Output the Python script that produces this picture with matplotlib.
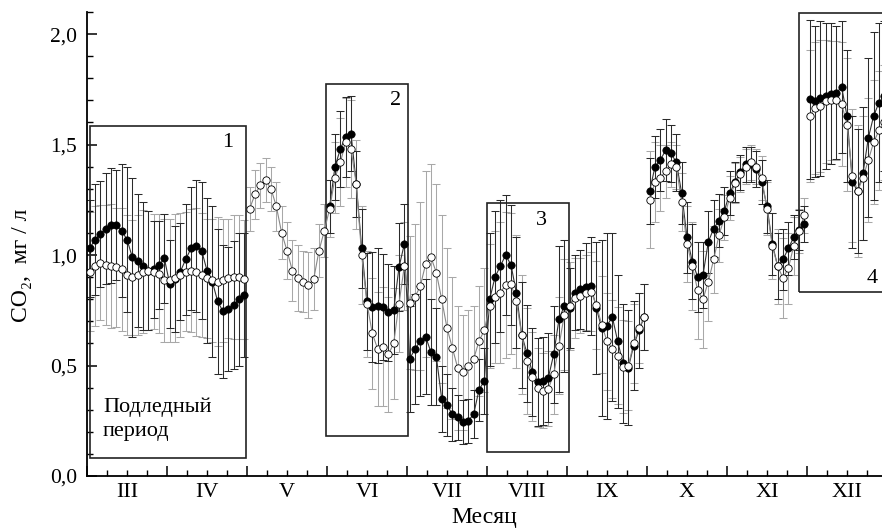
import numpy as np
import matplotlib.pyplot as plt
from matplotlib.patches import Rectangle
from matplotlib.ticker import FixedLocator, FixedFormatter, MultipleLocator, FuncFormatter

plt.rcParams['font.family'] = ['Liberation Serif', 'DejaVu Serif']
plt.rcParams['font.size'] = 13

months = ['III', 'IV', 'V', 'VI', 'VII', 'VIII', 'IX', 'X', 'XI', 'XII']
per_month = 15
nan = np.nan

# filled circles, mg/l
co2_dark = [
    1.03, 1.07, 1.095, 1.12, 1.135, 1.135, 1.11, 1.07, 0.99, 0.975, 0.95, 0.93, 0.935, 0.955, 0.985,  # III
    0.87, 0.89, 0.925, 0.98, 1.03, 1.04, 1.02, 0.93, 0.88, 0.79, 0.745, 0.755, 0.775, 0.80, 0.82,     # IV
    nan, nan, nan, nan, nan, nan, nan, nan, nan, nan, nan, nan, nan, nan, nan,                          # V
    1.22, 1.40, 1.48, 1.535, 1.55, 1.32, 1.03, 0.79, 0.765, 0.77, 0.765, 0.74, 0.75, 0.945, 1.05,      # VI
    0.53, 0.575, 0.61, 0.63, 0.56, 0.54, 0.35, 0.32, 0.28, 0.265, 0.245, 0.25, 0.28, 0.39, 0.43,       # VII
    0.80, 0.90, 0.95, 1.00, 0.955, 0.83, 0.64, 0.555, 0.47, 0.425, 0.43, 0.445, 0.55, 0.71, 0.77,      # VIII
    0.76, 0.83, 0.845, 0.855, 0.86, 0.76, 0.67, 0.68, 0.72, 0.61, 0.51, 0.49, 0.59, 0.66, 0.72,        # IX
    1.29, 1.40, 1.43, 1.475, 1.46, 1.42, 1.28, 1.08, 0.97, 0.90, 0.91, 1.06, 1.12, 1.155, 1.20,        # X
    1.28, 1.33, 1.375, 1.41, 1.41, 1.39, 1.33, 1.22, 1.05, 0.95, 0.98, 1.03, 1.08, 1.115, 1.14,        # XI
    1.705, 1.695, 1.71, 1.72, 1.73, 1.735, 1.76, 1.63, 1.33, 1.29, 1.37, 1.53, 1.63, 1.69, 1.72,       # XII
]
err_dark = [
    0.22, 0.25, 0.24, 0.25, 0.26, 0.25, 0.30, 0.33, 0.36, 0.30, 0.29, 0.27, 0.22, 0.20, 0.20,
    0.20, 0.24, 0.22, 0.25, 0.28, 0.30, 0.31, 0.33, 0.34, 0.33, 0.30, 0.28, 0.29, 0.30, 0.28,
    nan, nan, nan, nan, nan, nan, nan, nan, nan, nan, nan, nan, nan, nan, nan,
    0.12, 0.15, 0.17, 0.18, 0.17, 0.15, 0.18, 0.22, 0.25, 0.26, 0.24, 0.22, 0.20, 0.20, 0.18,
    0.24, 0.25, 0.25, 0.26, 0.24, 0.22, 0.15, 0.14, 0.12, 0.10, 0.10, 0.10, 0.11, 0.14, 0.15,
    0.30, 0.30, 0.30, 0.27, 0.27, 0.25, 0.24, 0.22, 0.20, 0.20, 0.20, 0.20, 0.22, 0.33, 0.30,
    0.18, 0.17, 0.18, 0.20, 0.22, 0.30, 0.40, 0.42, 0.38, 0.30, 0.27, 0.26, 0.20, 0.17, 0.15,
    0.15, 0.14, 0.14, 0.14, 0.13, 0.13, 0.14, 0.16, 0.17, 0.16, 0.15, 0.14, 0.13, 0.12, 0.11,
    0.10, 0.09, 0.08, 0.08, 0.08, 0.08, 0.10, 0.12, 0.14, 0.15, 0.14, 0.12, 0.10, 0.09, 0.08,
    0.36, 0.34, 0.35, 0.33, 0.32, 0.30, 0.30, 0.30, 0.30, 0.28, 0.30, 0.36, 0.38, 0.36, 0.34,
]

# open circles, mg/l
co2_open = [
    0.925, 0.95, 0.965, 0.955, 0.95, 0.945, 0.935, 0.91, 0.90, 0.91, 0.925, 0.93, 0.925, 0.915, 0.885,
    0.885, 0.895, 0.91, 0.925, 0.93, 0.925, 0.91, 0.895, 0.885, 0.88, 0.885, 0.895, 0.90, 0.90, 0.89,
    1.21, 1.275, 1.315, 1.34, 1.30, 1.22, 1.10, 1.02, 0.93, 0.895, 0.88, 0.865, 0.89, 1.02, 1.11,
    1.21, 1.35, 1.42, 1.51, 1.48, 1.32, 1.00, 0.78, 0.645, 0.575, 0.585, 0.55, 0.60, 0.78, 0.95,
    0.785, 0.81, 0.86, 0.96, 0.99, 0.92, 0.80, 0.67, 0.58, 0.49, 0.47, 0.50, 0.53, 0.61, 0.66,
    0.77, 0.81, 0.83, 0.865, 0.87, 0.79, 0.64, 0.52, 0.45, 0.40, 0.385, 0.395, 0.46, 0.59, 0.73,
    0.77, 0.805, 0.815, 0.83, 0.835, 0.775, 0.685, 0.61, 0.575, 0.545, 0.495, 0.50, 0.60, 0.67, 0.72,
    1.25, 1.33, 1.35, 1.38, 1.41, 1.40, 1.24, 1.05, 0.95, 0.84, 0.80, 0.88, 0.98, 1.09, 1.17,
    1.26, 1.325, 1.365, 1.40, 1.42, 1.40, 1.35, 1.21, 1.04, 0.95, 0.895, 0.94, 1.04, 1.11, 1.18,
    1.63, 1.665, 1.675, 1.695, 1.70, 1.70, 1.685, 1.59, 1.36, 1.29, 1.35, 1.43, 1.51, 1.565, 1.60,
]
err_open = [
    0.27, 0.27, 0.26, 0.27, 0.28, 0.27, 0.28, 0.27, 0.26, 0.27, 0.28, 0.27, 0.26, 0.27, 0.28,
    0.28, 0.29, 0.28, 0.27, 0.28, 0.29, 0.28, 0.27, 0.28, 0.29, 0.28, 0.27, 0.28, 0.28, 0.27,
    0.10, 0.11, 0.10, 0.10, 0.10, 0.11, 0.12, 0.13, 0.14, 0.15, 0.14, 0.15, 0.14, 0.12, 0.12,
    0.13, 0.16, 0.20, 0.20, 0.22, 0.20, 0.22, 0.24, 0.25, 0.26, 0.27, 0.26, 0.25, 0.22, 0.20,
    0.30, 0.33, 0.38, 0.42, 0.42, 0.40, 0.38, 0.36, 0.32, 0.28, 0.26, 0.25, 0.24, 0.25, 0.28,
    0.28, 0.30, 0.32, 0.33, 0.32, 0.30, 0.27, 0.24, 0.20, 0.18, 0.17, 0.17, 0.18, 0.22, 0.25,
    0.20, 0.18, 0.17, 0.17, 0.18, 0.20, 0.22, 0.22, 0.22, 0.22, 0.21, 0.20, 0.18, 0.16, 0.15,
    0.22, 0.18, 0.15, 0.12, 0.10, 0.10, 0.13, 0.17, 0.20, 0.22, 0.22, 0.18, 0.15, 0.12, 0.10,
    0.10, 0.09, 0.08, 0.08, 0.08, 0.08, 0.10, 0.12, 0.15, 0.17, 0.18, 0.16, 0.13, 0.10, 0.08,
    0.30, 0.30, 0.30, 0.28, 0.27, 0.27, 0.28, 0.30, 0.30, 0.30, 0.28, 0.28, 0.28, 0.27, 0.26,
]

# observation runs (month index ranges) drawn as separate lines
runs = [(0, 2), (2, 7), (7, 9), (9, 10)]

# framed periods: (x0, x1, y0, y1, label, label_x, label_y)
frames = [
    (0.04, 1.99, 0.08, 1.585, '1', 1.76, 1.51),
    (2.99, 4.01, 0.18, 1.775, '2', 3.86, 1.70),
    (5.00, 6.03, 0.11, 1.235, '3', 5.675, 1.155),
    (8.90, 10.6, 0.835, 2.095, '4', 9.81, 0.895),
]

n = len(months) * per_month
x = (np.arange(n) + 0.5) / per_month
dark = np.array(co2_dark)
dark_e = np.array(err_dark)
opn = np.array(co2_open)
opn_e = np.array(err_open)

fig = plt.figure(figsize=(8.82, 5.29), dpi=100)
ax = fig.add_axes([87 / 882, 53 / 529, 800 / 882, 464 / 529])

ax.errorbar(x, opn, yerr=opn_e, fmt='none', ecolor='#a8a8a8', elinewidth=0.75,
            capsize=3.2, capthick=0.75, zorder=1)
ax.errorbar(x, dark, yerr=dark_e, fmt='none', ecolor='#2a2a2a', elinewidth=0.75,
            capsize=3.2, capthick=0.75, zorder=2)

for a, b in runs:
    sl = slice(a * per_month, b * per_month)
    ax.plot(x[sl], dark[sl], '-', color='#333333', lw=0.8, zorder=4)
    ax.plot(x[sl], opn[sl], '-', color='#888888', lw=0.8, zorder=4)

ax.plot(x, dark, 'o', ls='none', ms=5.3, mfc='black', mec='black', mew=0.5, zorder=5)
ax.plot(x, opn, 'o', ls='none', ms=5.3, mfc='white', mec='black', mew=0.6, zorder=6)

for x0, x1, y0, y1, lab, lx, ly in frames:
    ax.add_patch(Rectangle((x0, y0), x1 - x0, y1 - y0, fill=False, ec='#222222',
                           lw=1.2, zorder=3))
    ax.text(lx, ly, lab, fontsize=16, ha='center', va='center', zorder=7)

ax.text(0.2, 0.355, 'Подледный\nпериод', fontsize=16, ha='left', va='top',
        linespacing=1.35, zorder=7)

ax.set_xlim(0, 10)
ax.set_ylim(0, 2.1)
for s in ['top', 'right']:
    ax.spines[s].set_visible(False)
for s in ['left', 'bottom']:
    ax.spines[s].set_linewidth(1.3)

ax.yaxis.set_major_locator(MultipleLocator(0.5))
ax.yaxis.set_minor_locator(MultipleLocator(0.1))
ax.yaxis.set_major_formatter(FuncFormatter(lambda v, p: ('%.1f' % v).replace('.', ',')))
ax.tick_params(axis='y', which='major', direction='in', length=7, width=1.1, pad=7, labelsize=15.5)
ax.tick_params(axis='y', which='minor', direction='in', length=4, width=1.0)

ax.xaxis.set_major_locator(FixedLocator(np.arange(0, 11)))
ax.xaxis.set_major_formatter(FixedFormatter([''] * 11))
quarters = [m + q for m in range(10) for q in (0.25, 0.5, 0.75)]
qlabels = [months[m] if q == 0.5 else '' for m in range(10) for q in (0.25, 0.5, 0.75)]
ax.xaxis.set_minor_locator(FixedLocator(quarters))
ax.xaxis.set_minor_formatter(FixedFormatter(qlabels))
ax.tick_params(axis='x', which='major', direction='in', length=7, width=1.1)
ax.tick_params(axis='x', which='minor', direction='in', length=4, width=1.0, pad=5, labelsize=16)

fig.text(484 / 882, 11 / 529, 'Месяц', ha='center', va='center', fontsize=17)
fig.text(22 / 882, 1 - 265 / 529, 'CO₂,  мг / л', rotation=90, ha='center', va='center',
         fontsize=17)

fig.savefig('out.png', dpi=100)
